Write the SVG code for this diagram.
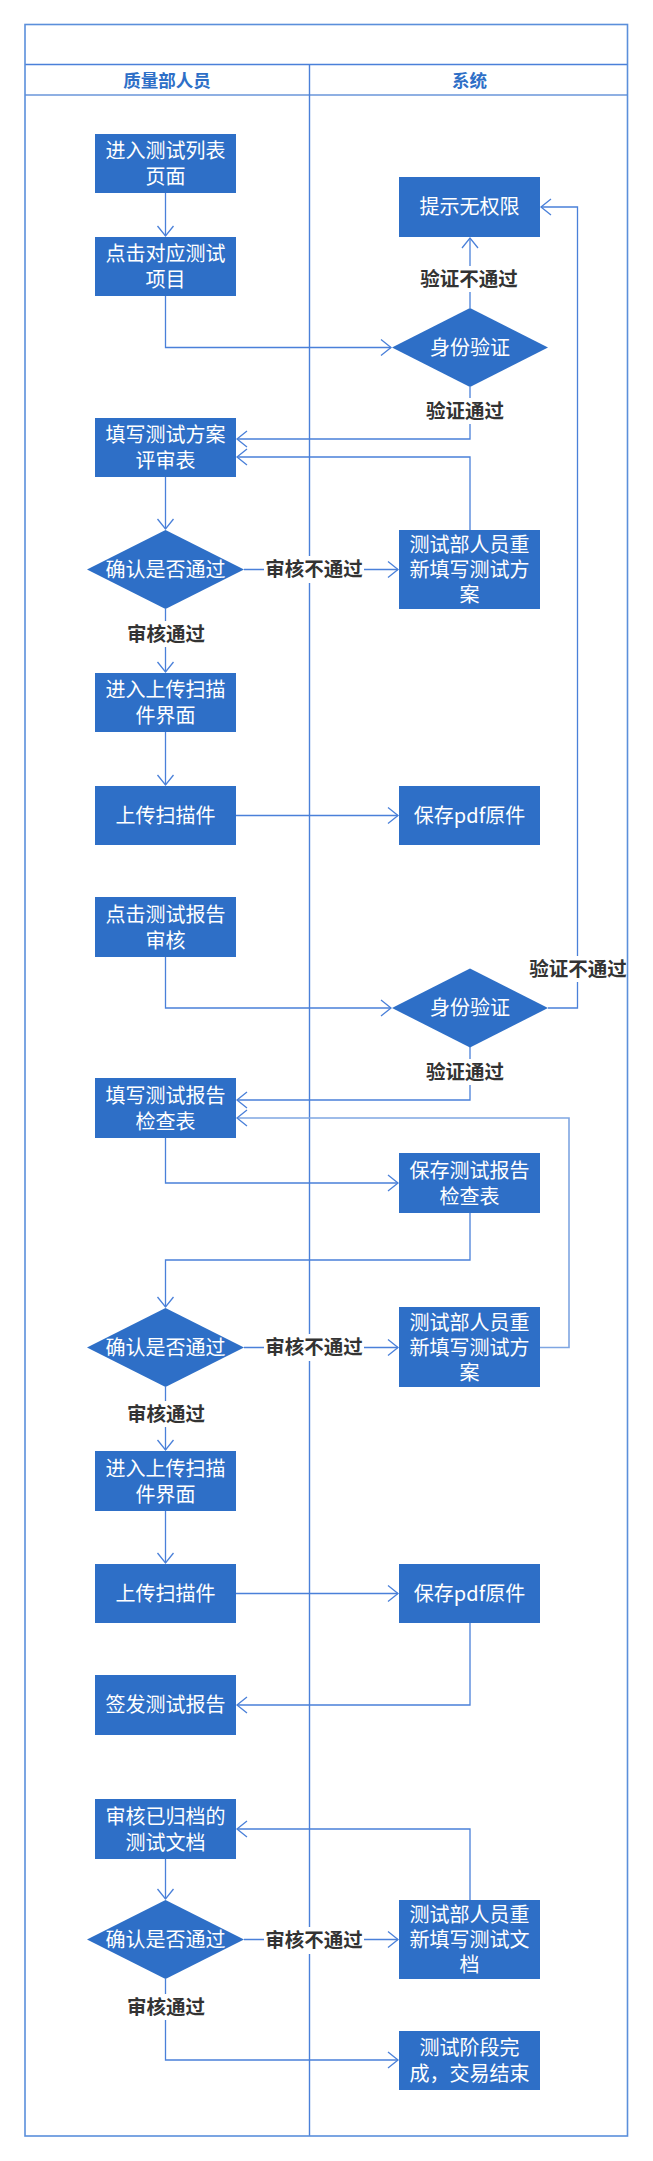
<svg xmlns="http://www.w3.org/2000/svg" width="653" height="2161" viewBox="0 0 653 2161">
<style>
.box{fill:#2e6fc7;}
.bt{font-family:"Microsoft YaHei","Noto Sans CJK SC",sans-serif;font-size:20px;fill:#ffffff;text-anchor:middle;}
.hd{font-family:"Microsoft YaHei","Noto Sans CJK SC",sans-serif;font-size:17.5px;font-weight:bold;fill:#2e6fc7;text-anchor:middle;}
.lb{font-family:"Microsoft YaHei","Noto Sans CJK SC",sans-serif;font-size:19.5px;font-weight:bold;fill:#333333;text-anchor:middle;}
.cn{fill:none;stroke:#4a80d9;stroke-width:1.3;marker-end:url(#arr);}
.cn2{fill:none;stroke:#7fa6e2;stroke-width:1.6;marker-end:url(#arr);}
.lbg{fill:#ffffff;}
.lane{stroke:#4a80d9;stroke-width:1.4;fill:none;}
</style>
<defs>
<marker id="arr" viewBox="-12 -10 14 20" markerWidth="14" markerHeight="20" refX="0" refY="0" orient="auto" markerUnits="userSpaceOnUse">
<path d="M-10,-8 L0,0 L-10,8" fill="none" stroke="#4a80d9" stroke-width="1.3"/>
</marker>
</defs>
<rect x="0" y="0" width="653" height="2161" fill="#ffffff"/>
<g id="lanes">
<line class="lane" x1="25" y1="64.5" x2="627.5" y2="64.5"/>
<line x1="25" y1="95" x2="627.5" y2="95" stroke="#8fb0e3" stroke-width="2"/>
<line class="lane" x1="309.5" y1="64.5" x2="309.5" y2="2136"/>
<text class="hd" x="167" y="86.5">质量部人员</text>
<text class="hd" x="469.5" y="86.5">系统</text>
</g>
<g id="connectors">
<path class="cn" d="M165.5,193 V236"/>
<path class="cn" d="M165.5,296 V347.5 H391"/>
<path class="cn" d="M470,308 V238"/>
<path class="cn" d="M470,387 V439 H237"/>
<path class="cn" d="M470,530 V457 H237"/>
<path class="cn" d="M165.5,477 V529"/>
<path class="cn" d="M244,569.5 H398"/>
<path class="cn" d="M165.5,609 V672"/>
<path class="cn" d="M165.5,732 V785"/>
<path class="cn" d="M236,815.5 H398"/>
<path class="cn" d="M165.5,957 V1008 H391"/>
<path class="cn" d="M548,1008 H577.5 V207 H541"/>
<path class="cn" d="M470,1047 V1100 H237"/>
<path class="cn2" d="M540,1347.5 H569 V1118 H237"/>
<path class="cn" d="M165.5,1138 V1183 H398"/>
<path class="cn" d="M470,1213 V1260 H165.5 V1307"/>
<path class="cn" d="M244,1347.5 H398"/>
<path class="cn" d="M165.5,1387 V1450"/>
<path class="cn" d="M165.5,1511 V1563"/>
<path class="cn" d="M236,1593.5 H398"/>
<path class="cn" d="M470,1623 V1705 H237"/>
<path class="cn" d="M165.5,1859 V1899"/>
<path class="cn" d="M470,1900 V1829 H237"/>
<path class="cn" d="M244,1939.5 H398"/>
<path class="cn" d="M165.5,1979 V2060 H398"/>
<g id="labels">
<rect class="lbg" x="418" y="266" width="102" height="26"/>
<text class="lb" x="469" y="286">验证不通过</text>
<rect class="lbg" x="424" y="398" width="82" height="26"/>
<text class="lb" x="465" y="418">验证通过</text>
<rect class="lbg" x="264" y="556" width="100" height="27"/>
<text class="lb" x="314" y="576">审核不通过</text>
<rect class="lbg" x="125" y="621" width="82" height="26"/>
<text class="lb" x="166" y="641">审核通过</text>
<rect class="lbg" x="528" y="956" width="99" height="26"/>
<text class="lb" x="578" y="976">验证不通过</text>
<rect class="lbg" x="424" y="1059" width="82" height="26"/>
<text class="lb" x="465" y="1079">验证通过</text>
<rect class="lbg" x="264" y="1334" width="100" height="27"/>
<text class="lb" x="314" y="1354">审核不通过</text>
<rect class="lbg" x="125" y="1401" width="82" height="26"/>
<text class="lb" x="166" y="1421">审核通过</text>
<rect class="lbg" x="264" y="1927" width="100" height="27"/>
<text class="lb" x="314" y="1947">审核不通过</text>
<rect class="lbg" x="125" y="1994" width="82" height="26"/>
<text class="lb" x="166" y="2014">审核通过</text>
</g>
</g>
<g id="n1"><rect class="box" x="95" y="134" width="141" height="59"/><text class="bt" x="165.5" y="158">进入测试列表</text><text class="bt" x="165.5" y="184">页面</text></g>
<g id="n2"><rect class="box" x="95" y="237" width="141" height="59"/><text class="bt" x="165.5" y="261">点击对应测试</text><text class="bt" x="165.5" y="287">项目</text></g>
<g id="n3"><rect class="box" x="95" y="418" width="141" height="59"/><text class="bt" x="165.5" y="442">填写测试方案</text><text class="bt" x="165.5" y="468">评审表</text></g>
<g id="d1"><polygon class="box" points="165.5,530 244,569.5 165.5,609 87,569.5"/><text class="bt" x="165.5" y="576.5">确认是否通过</text></g>
<g id="n4"><rect class="box" x="95" y="673" width="141" height="59"/><text class="bt" x="165.5" y="697">进入上传扫描</text><text class="bt" x="165.5" y="723">件界面</text></g>
<g id="n5"><rect class="box" x="95" y="786" width="141" height="59"/><text class="bt" x="165.5" y="822.5">上传扫描件</text></g>
<g id="n6"><rect class="box" x="95" y="897" width="141" height="60"/><text class="bt" x="165.5" y="921.5">点击测试报告</text><text class="bt" x="165.5" y="947.5">审核</text></g>
<g id="n7"><rect class="box" x="95" y="1078" width="141" height="60"/><text class="bt" x="165.5" y="1102.5">填写测试报告</text><text class="bt" x="165.5" y="1128.5">检查表</text></g>
<g id="d2"><polygon class="box" points="165.5,1308 244,1347.5 165.5,1387 87,1347.5"/><text class="bt" x="165.5" y="1354.5">确认是否通过</text></g>
<g id="n8"><rect class="box" x="95" y="1451" width="141" height="60"/><text class="bt" x="165.5" y="1475.5">进入上传扫描</text><text class="bt" x="165.5" y="1501.5">件界面</text></g>
<g id="n9"><rect class="box" x="95" y="1564" width="141" height="59"/><text class="bt" x="165.5" y="1600.5">上传扫描件</text></g>
<g id="n10"><rect class="box" x="95" y="1675" width="141" height="60"/><text class="bt" x="165.5" y="1712">签发测试报告</text></g>
<g id="n11"><rect class="box" x="95" y="1799" width="141" height="60"/><text class="bt" x="165.5" y="1823.5">审核已归档的</text><text class="bt" x="165.5" y="1849.5">测试文档</text></g>
<g id="d3"><polygon class="box" points="165.5,1900 244,1939.5 165.5,1979 87,1939.5"/><text class="bt" x="165.5" y="1946.5">确认是否通过</text></g>
<g id="r1"><rect class="box" x="399" y="177" width="141" height="60"/><text class="bt" x="469.5" y="214">提示无权限</text></g>
<g id="rd1"><polygon class="box" points="470,308 548,347.5 470,387 392,347.5"/><text class="bt" x="470" y="354.5">身份验证</text></g>
<g id="r2"><rect class="box" x="399" y="530" width="141" height="79"/><text class="bt" x="469.5" y="552">测试部人员重</text><text class="bt" x="469.5" y="577">新填写测试方</text><text class="bt" x="469.5" y="602">案</text></g>
<g id="r3"><rect class="box" x="399" y="786" width="141" height="59"/><text class="bt" x="469.5" y="822.5">保存pdf原件</text></g>
<g id="rd2"><polygon class="box" points="470,968.5 548,1008 470,1047.5 392,1008"/><text class="bt" x="470" y="1015">身份验证</text></g>
<g id="r4"><rect class="box" x="399" y="1153" width="141" height="60"/><text class="bt" x="469.5" y="1177.5">保存测试报告</text><text class="bt" x="469.5" y="1203.5">检查表</text></g>
<g id="r5"><rect class="box" x="399" y="1307" width="141" height="80"/><text class="bt" x="469.5" y="1329.5">测试部人员重</text><text class="bt" x="469.5" y="1354.5">新填写测试方</text><text class="bt" x="469.5" y="1379.5">案</text></g>
<g id="r6"><rect class="box" x="399" y="1564" width="141" height="59"/><text class="bt" x="469.5" y="1600.5">保存pdf原件</text></g>
<g id="r7"><rect class="box" x="399" y="1900" width="141" height="79"/><text class="bt" x="469.5" y="1922">测试部人员重</text><text class="bt" x="469.5" y="1947">新填写测试文</text><text class="bt" x="469.5" y="1972">档</text></g>
<g id="r8"><rect class="box" x="399" y="2031" width="141" height="59"/><text class="bt" x="469.5" y="2055">测试阶段完</text><text class="bt" x="469.5" y="2081">成，交易结束</text></g>
<g id="frame"><rect x="25" y="24.5" width="602.5" height="2111.5" fill="none" stroke="#5b8fdb" stroke-width="1.6"/></g>
</svg>
